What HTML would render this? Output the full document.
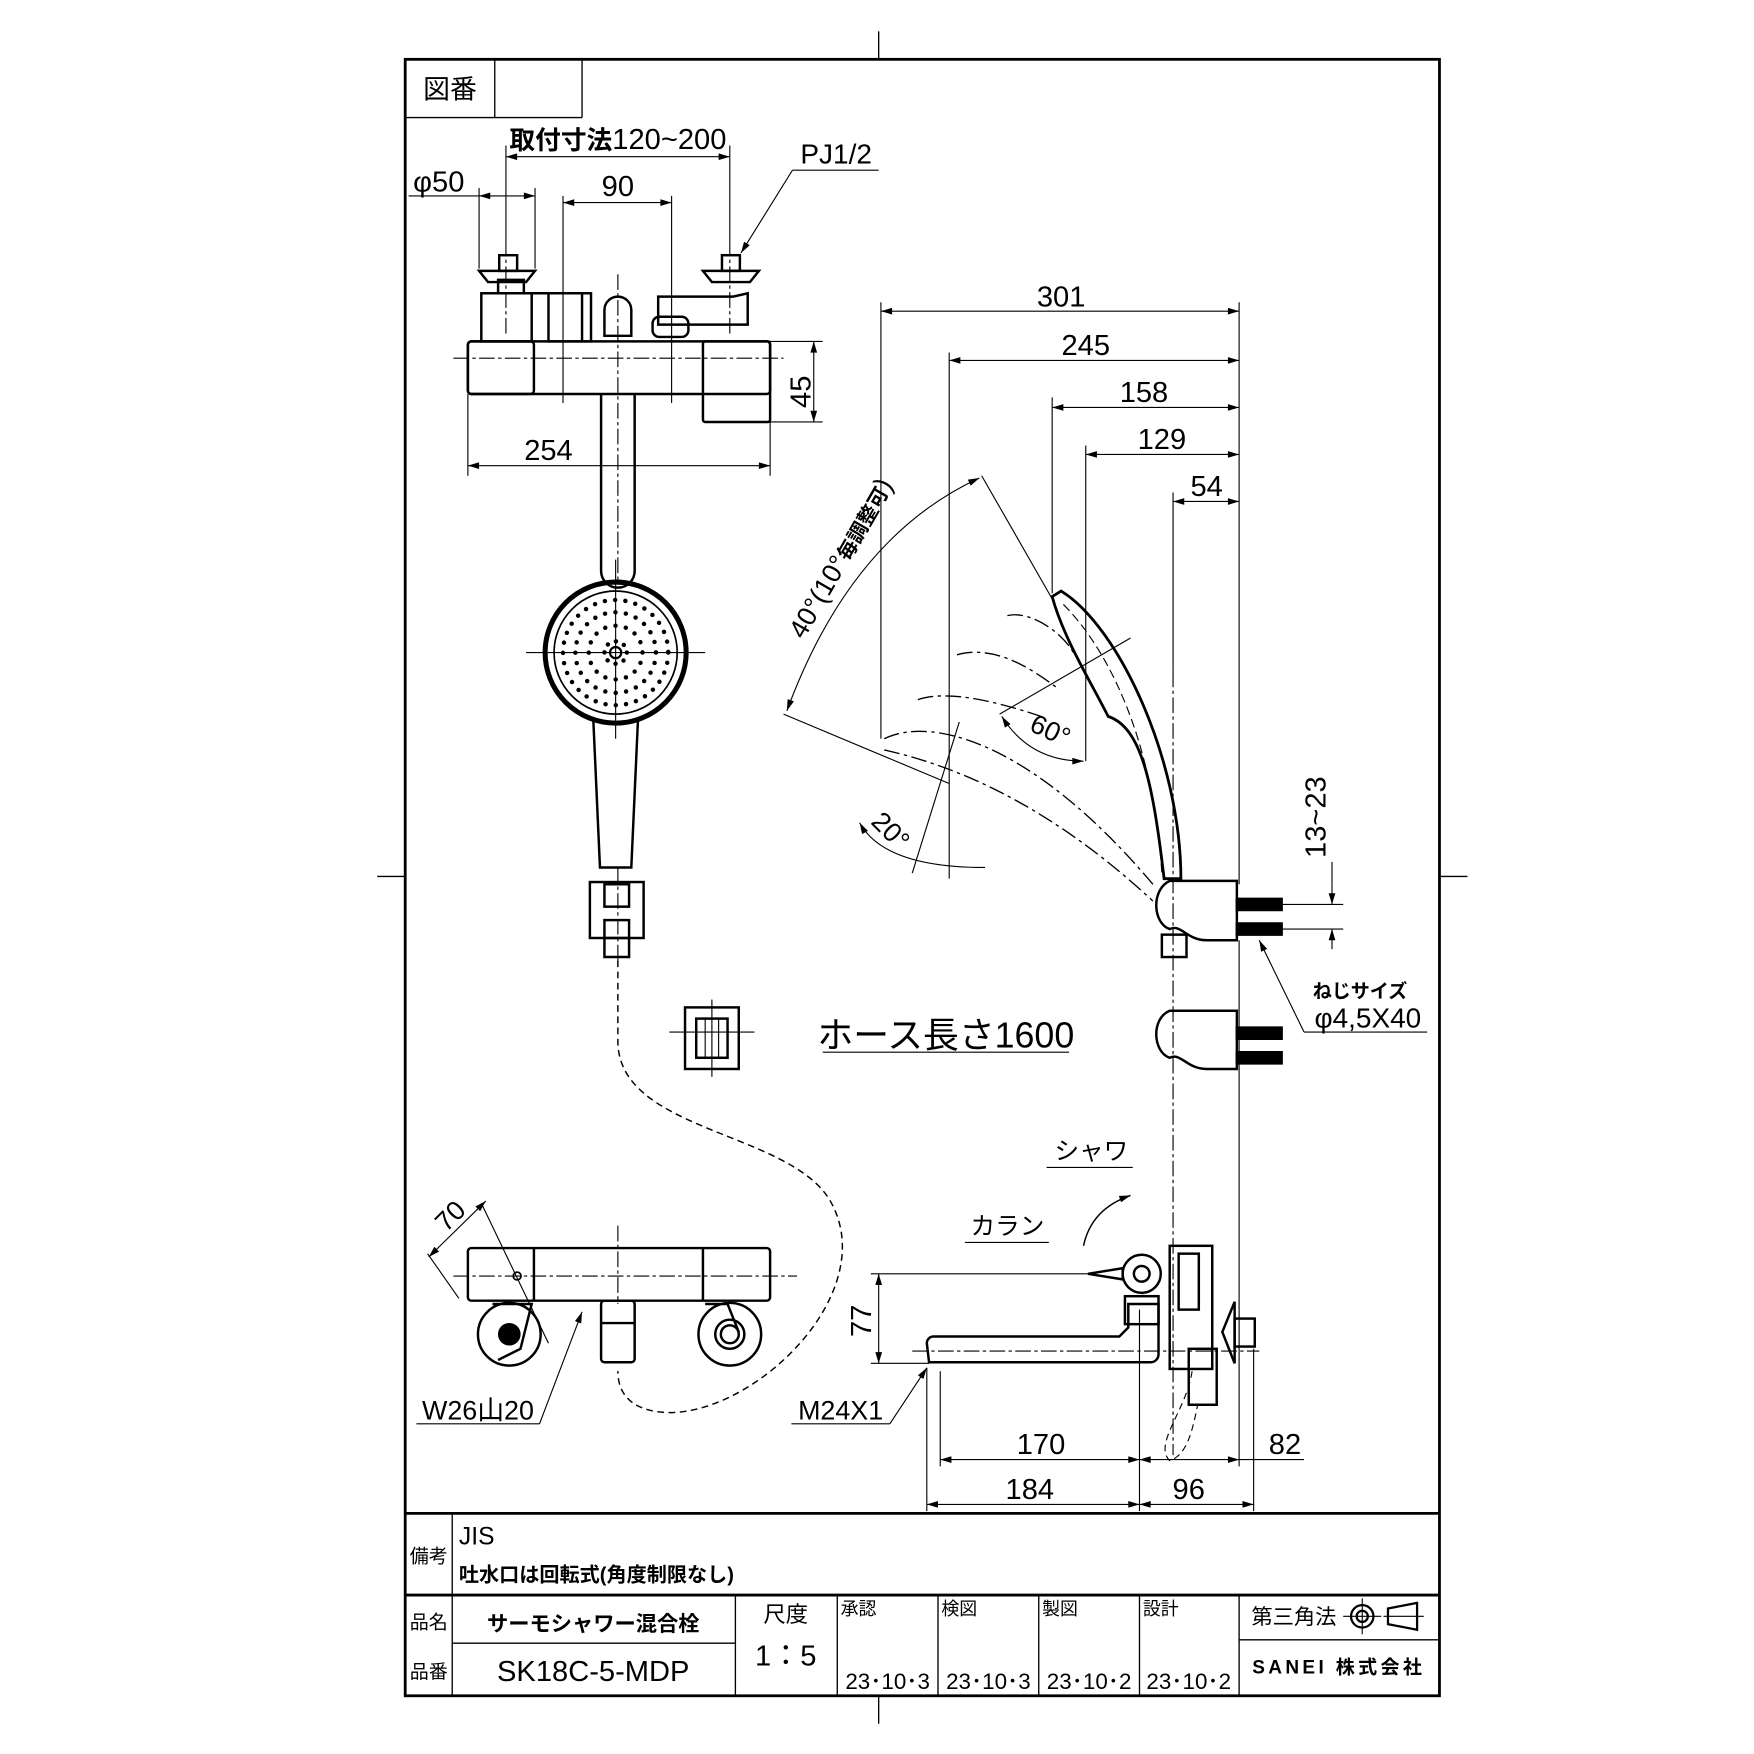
<!DOCTYPE html>
<html><head><meta charset="utf-8"><style>
html,body{margin:0;padding:0;background:#fff}
svg{display:block}
text{font-family:"Liberation Sans","Noto Sans CJK JP",sans-serif;fill:#000}
.b{font-weight:bold}
</style></head><body>
<svg width="1754" height="1754" viewBox="0 0 1567 1567" xmlns="http://www.w3.org/2000/svg">
<defs>
<marker id="a" viewBox="0 0 10 6" refX="10" refY="3" markerWidth="14" markerHeight="6" markerUnits="userSpaceOnUse" orient="auto-start-reverse"><path d="M0,0 L10,3 L0,6 Z" fill="#000"/></marker>
</defs>
<g fill="none" stroke="#000">
<rect x="362" y="53" width="924" height="1462" stroke-width="2.5"/>
<g stroke-width="1.2">
<line x1="785" y1="28" x2="785" y2="53"/><line x1="785" y1="1515" x2="785" y2="1540"/>
<line x1="337" y1="783" x2="362" y2="783"/><line x1="1286" y1="783" x2="1311" y2="783"/>
<line x1="362" y1="105" x2="520" y2="105"/><line x1="520" y1="53" x2="520" y2="105"/><line x1="442" y1="53" x2="442" y2="105"/>
</g>
<line x1="362" y1="1352" x2="1286" y2="1352" stroke-width="2.5"/>
<line x1="362" y1="1425" x2="1286" y2="1425" stroke-width="2.5"/>
<g stroke-width="1.2">
<line x1="404" y1="1352" x2="404" y2="1515"/>
<line x1="404" y1="1468" x2="657" y2="1468"/>
<line x1="657" y1="1425" x2="657" y2="1515"/>
<line x1="748" y1="1425" x2="748" y2="1515"/>
<line x1="838" y1="1425" x2="838" y2="1515"/>
<line x1="928" y1="1425" x2="928" y2="1515"/>
<line x1="1018" y1="1425" x2="1018" y2="1515"/>
<line x1="1107" y1="1425" x2="1107" y2="1515"/>
<line x1="1107" y1="1465" x2="1286" y2="1465"/>
</g>
<g stroke-width="2"><circle cx="1217" cy="1444" r="10"/><circle cx="1217" cy="1444" r="5"/><line x1="1200" y1="1444" x2="1234" y2="1444" stroke-width="1"/><line x1="1217" y1="1428" x2="1217" y2="1460" stroke-width="1"/>
<path d="M1240 1437 L1266 1432 L1266 1456 L1240 1451 Z"/><line x1="1236" y1="1444" x2="1272" y2="1444" stroke-width="1"/></g>

<g stroke-width="2.2">
<rect x="418" y="305" width="270" height="47" rx="3"/>
<rect x="418" y="305" width="59" height="47" rx="3"/>
<rect x="628" y="305" width="60" height="72" rx="2"/>
<path d="M537 352 L537 510 A15 15 0 0 0 567 510 L567 352"/>
<rect x="430" y="262" width="45" height="43"/>
<path d="M475 262 L520 262 L520 305"/><rect x="490" y="262" width="38" height="43"/>
<path d="M445 250 L468 250 L468 262 L445 262 Z"/>
<path d="M428 242 L478 242 L470 252 L436 252 Z"/>
<rect x="446" y="228" width="16" height="14"/>
<path d="M628 242 L678 242 L670 252 L636 252 Z"/>
<rect x="645" y="228" width="16" height="14"/>
<path d="M588 265 L655 265 L668 262 L668 290 L588 290 Z"/>
<rect x="583" y="283" width="32" height="18" rx="6"/>
<path d="M540 300 L540 277 A12 12 0 0 1 564 277 L564 300 Z"/>
</g>
<g stroke-width="1" stroke-dasharray="14 3 3 3">
<line x1="405" y1="320" x2="700" y2="320"/>
<line x1="552" y1="245" x2="552" y2="520"/>
<line x1="452" y1="215" x2="452" y2="300"/>
<line x1="652" y1="215" x2="652" y2="300"/>
</g>
<circle cx="550" cy="583" r="63" stroke-width="4.5"/>
<circle cx="550" cy="583" r="55" stroke-width="1.5"/>
<g stroke-width="4" stroke-linecap="round">
<circle cx="550" cy="583" r="10" stroke-dasharray="0 7.85"/>
<circle cx="550" cy="583" r="24" stroke-dasharray="0 9.4"/>
<circle cx="550" cy="583" r="36" stroke-dasharray="0 9.4"/>
<circle cx="550" cy="583" r="47" stroke-dasharray="0 9.2"/>
</g>
<circle cx="550" cy="583" r="5" stroke-width="2"/>
<g stroke-width="1"><line x1="470" y1="583" x2="630" y2="583"/><line x1="550" y1="500" x2="550" y2="660"/></g>
<path d="M530 642 L536 775 L564 775 L570 642" stroke-width="2.2"/>
<g stroke-width="2.2"><rect x="527" y="788" width="48" height="50"/><rect x="540" y="790" width="22" height="20"/><rect x="540" y="822" width="22" height="16"/><path d="M540 838 L540 855 L562 855 L562 838"/></g>
<line x1="552" y1="775" x2="552" y2="860" stroke-width="1" stroke-dasharray="14 3 3 3"/>
<path d="M552 858 L552 930 C552 1010 700 1010 740 1070 C790 1150 680 1260 600 1262 C570 1262 552 1250 552 1225" stroke-width="1.3" stroke-dasharray="6 4"/>
<g stroke-width="2.2"><rect x="612" y="900" width="48" height="55"/><rect x="622" y="910" width="28" height="35"/><line x1="630" y1="910" x2="630" y2="945" stroke-width="1"/><line x1="642" y1="910" x2="642" y2="945" stroke-width="1"/></g>
<g stroke-width="1"><line x1="598" y1="922" x2="674" y2="922"/><line x1="636" y1="893" x2="636" y2="962"/></g>

<g stroke-width="1">
<line x1="452" y1="130" x2="452" y2="215"/><line x1="652" y1="130" x2="652" y2="215"/>
<line x1="452" y1="140" x2="652" y2="140" marker-start="url(#a)" marker-end="url(#a)"/>
<line x1="428" y1="168" x2="428" y2="240"/><line x1="478" y1="168" x2="478" y2="240"/>
<line x1="365" y1="175" x2="428" y2="175"/><line x1="428" y1="175" x2="478" y2="175" marker-start="url(#a)" marker-end="url(#a)"/>
<line x1="503" y1="175" x2="503" y2="360"/><line x1="600" y1="175" x2="600" y2="360"/>
<line x1="503" y1="181" x2="600" y2="181" marker-start="url(#a)" marker-end="url(#a)"/>
<line x1="708" y1="152" x2="785" y2="152"/><line x1="708" y1="152" x2="662" y2="226" marker-end="url(#a)"/>
<line x1="688" y1="305" x2="735" y2="305"/><line x1="688" y1="377" x2="735" y2="377"/>
<line x1="727" y1="305" x2="727" y2="377" marker-start="url(#a)" marker-end="url(#a)"/>
<line x1="418" y1="352" x2="418" y2="425"/><line x1="688" y1="377" x2="688" y2="425"/>
<line x1="418" y1="416" x2="688" y2="416" marker-start="url(#a)" marker-end="url(#a)"/>
</g>

<g stroke-width="1">
<line x1="787" y1="270" x2="787" y2="660"/>
<line x1="848" y1="315" x2="848" y2="785"/>
<line x1="940" y1="355" x2="940" y2="530"/>
<line x1="970" y1="398" x2="970" y2="680"/>
<line x1="1107" y1="270" x2="1107" y2="790"/>
<line x1="787" y1="278" x2="1107" y2="278" marker-start="url(#a)" marker-end="url(#a)"/>
<line x1="848" y1="322" x2="1107" y2="322" marker-start="url(#a)" marker-end="url(#a)"/>
<line x1="940" y1="364" x2="1107" y2="364" marker-start="url(#a)" marker-end="url(#a)"/>
<line x1="970" y1="406" x2="1107" y2="406" marker-start="url(#a)" marker-end="url(#a)"/>
<line x1="1048" y1="448" x2="1107" y2="448" marker-start="url(#a)" marker-end="url(#a)"/>
<line x1="1048" y1="440" x2="1048" y2="600"/>
<line x1="877" y1="425" x2="940" y2="535"/>
<line x1="700" y1="638" x2="848" y2="700"/>
<path d="M703 635 Q760 480 875 427" marker-start="url(#a)" marker-end="url(#a)"/>
<line x1="893" y1="638" x2="1010" y2="570"/>
<path d="M895 640 Q920 680 968 680" marker-start="url(#a)" marker-end="url(#a)"/>
<line x1="815" y1="780" x2="857" y2="645"/>
<path d="M768 735 Q790 775 880 775" marker-start="url(#a)"/>
<line x1="1125" y1="840" x2="1165" y2="922" marker-start="url(#a)"/>
<line x1="1165" y1="922" x2="1275" y2="922"/>
<line x1="1145" y1="808" x2="1200" y2="808"/><line x1="1145" y1="830" x2="1200" y2="830"/>
<line x1="1190" y1="790" x2="1190" y2="808" marker-end="url(#a)"/>
<line x1="1190" y1="848" x2="1190" y2="830" marker-end="url(#a)"/>
<line x1="1190" y1="770" x2="1190" y2="790"/>
<line x1="735" y1="940" x2="955" y2="940"/>
</g>
<line x1="1048" y1="600" x2="1048" y2="1300" stroke-width="1" stroke-dasharray="14 3 3 3"/>
<g stroke-width="1.2" stroke-dasharray="14 4 3 4">
<path d="M790 660 C830 640 920 660 1030 790"/>
<path d="M790 670 C880 690 960 740 1030 805"/>
<path d="M820 625 C850 615 900 630 930 640"/>
<path d="M855 585 C890 575 925 600 945 615"/>
<path d="M900 550 C920 545 950 565 960 585"/>
</g>
<path d="M940 533 L948 528 C1000 560 1055 680 1055 785 L1040 785 C1030 700 1020 650 990 640 C975 610 950 570 940 533 Z" stroke-width="2.5"/>
<path d="M950 540 C990 580 1030 660 1038 780" stroke-width="1" stroke-dasharray="8 4"/>
<g stroke-width="2.2">
<path d="M1045 787 L1105 787 L1105 840 L1078 840 C1060 840 1055 825 1045 830 C1030 825 1028 795 1045 787 Z"/>
<rect x="1038" y="835" width="22" height="20"/>
<path d="M1105 803 L1145 803 L1145 813 L1105 813 Z" fill="#000"/>
<path d="M1105 825 L1145 825 L1145 835 L1105 835 Z" fill="#000"/>
<path d="M1045 903 L1105 903 L1105 955 L1078 955 C1060 955 1055 940 1045 945 C1030 940 1028 910 1045 903 Z"/>
<path d="M1105 918 L1145 918 L1145 928 L1105 928 Z" fill="#000"/>
<path d="M1105 940 L1145 940 L1145 950 L1105 950 Z" fill="#000"/>
</g>
<line x1="1107" y1="840" x2="1107" y2="1310" stroke-width="1"/>

<g stroke-width="2.2">
<rect x="418" y="1115" width="270" height="47" rx="3"/>
<line x1="477" y1="1115" x2="477" y2="1162"/><line x1="628" y1="1115" x2="628" y2="1162"/>
<circle cx="455" cy="1192" r="28"/><circle cx="652" cy="1192" r="28"/>
<circle cx="652" cy="1192" r="13"/><circle cx="652" cy="1192" r="8"/>
<circle cx="455" cy="1192" r="9" fill="#000"/>
<path d="M440 1165 L475 1165 L465 1205 L445 1215"/><path d="M630 1165 L650 1165 L660 1190"/>
<rect x="537" y="1162" width="30" height="55" rx="3"/>
<line x1="537" y1="1182" x2="567" y2="1182"/>
</g>
<circle cx="462" cy="1140" r="3.5" stroke-width="1.5"/>
<g stroke-width="1">
<line x1="405" y1="1140" x2="712" y2="1140" stroke-dasharray="14 3 3 3"/>
<line x1="552" y1="1095" x2="552" y2="1165" stroke-dasharray="14 3 3 3"/>
<line x1="430" y1="1075" x2="490" y2="1200"/>
<line x1="382" y1="1120" x2="410" y2="1160"/>
<line x1="383" y1="1123" x2="434" y2="1073" marker-start="url(#a)" marker-end="url(#a)"/>
<line x1="372" y1="1272" x2="482" y2="1272"/>
<line x1="482" y1="1272" x2="520" y2="1172" marker-end="url(#a)"/>
</g>

<g stroke-width="2.2">
<path d="M830 1217 L828 1200 A6 6 0 0 1 834 1194 L1000 1194 L1008 1186 L1008 1165 L1035 1165 L1035 1210 A7 7 0 0 1 1028 1217 Z"/>
<circle cx="1020" cy="1138" r="17"/><circle cx="1020" cy="1138" r="7"/>
<path d="M972 1138 L1003 1133 L1003 1143 Z"/>
<rect x="1045" y="1113" width="38" height="110"/>
<rect x="1053" y="1120" width="18" height="50"/>
<rect x="1005" y="1158" width="30" height="25"/>
<path d="M1103 1163 L1092 1190 L1103 1218 Z"/>
<rect x="1103" y="1178" width="18" height="25"/>
<rect x="1062" y="1205" width="25" height="50"/>
</g>
<g stroke-width="1">
<line x1="778" y1="1138" x2="975" y2="1138"/>
<line x1="778" y1="1218" x2="830" y2="1218"/>
<line x1="785" y1="1138" x2="785" y2="1218" marker-start="url(#a)" marker-end="url(#a)"/>
<line x1="815" y1="1207" x2="1125" y2="1207" stroke-dasharray="14 3 3 3"/>
<line x1="707" y1="1272" x2="795" y2="1272"/>
<line x1="795" y1="1272" x2="828" y2="1222" marker-end="url(#a)"/>
<line x1="828" y1="1222" x2="828" y2="1350"/><line x1="840" y1="1225" x2="840" y2="1310"/>
<line x1="1018" y1="1170" x2="1018" y2="1350"/><line x1="1120" y1="1205" x2="1120" y2="1350"/>
<line x1="840" y1="1304" x2="1018" y2="1304" marker-start="url(#a)" marker-end="url(#a)"/>
<line x1="1018" y1="1304" x2="1107" y2="1304" marker-start="url(#a)" marker-end="url(#a)"/>
<line x1="1107" y1="1304" x2="1165" y2="1304"/>
<line x1="828" y1="1344" x2="1018" y2="1344" marker-start="url(#a)" marker-end="url(#a)"/>
<line x1="1018" y1="1344" x2="1120" y2="1344" marker-start="url(#a)" marker-end="url(#a)"/>
<line x1="935" y1="1043" x2="1012" y2="1043"/><line x1="862" y1="1110" x2="937" y2="1110"/>
<path d="M968 1113 Q975 1080 1010 1068" marker-end="url(#a)" stroke-width="1.3"/>
</g>
<path d="M1065 1225 C1060 1260 1030 1290 1045 1305 C1060 1300 1065 1280 1070 1255" stroke-width="1" stroke-dasharray="6 4"/>
</g>

<text x="402" y="88" font-size="24" text-anchor="middle">図番</text>
<text x="552" y="133" font-size="23" class="b" text-anchor="middle">取付寸法<tspan font-weight="normal" font-size="26">120~200</tspan></text>
<text x="392" y="171" font-size="26" text-anchor="middle">φ50</text>
<text x="552" y="175" font-size="26" text-anchor="middle">90</text>
<text x="747" y="146" font-size="25" text-anchor="middle">PJ1/2</text>
<text x="0" y="0" font-size="26" text-anchor="middle" transform="translate(724,350) rotate(-90)">45</text>
<text x="490" y="411" font-size="26" text-anchor="middle">254</text>
<text x="948" y="274" font-size="26" text-anchor="middle">301</text>
<text x="970" y="317" font-size="26" text-anchor="middle">245</text>
<text x="1022" y="359" font-size="26" text-anchor="middle">158</text>
<text x="1038" y="401" font-size="26" text-anchor="middle">129</text>
<text x="1078" y="443" font-size="26" text-anchor="middle">54</text>
<text x="0" y="0" font-size="24" transform="translate(718,572) rotate(-60)">40°(10°<tspan class="b" font-size="18">毎調整可</tspan>)</text>
<text x="0" y="0" font-size="24" text-anchor="middle" transform="translate(935,660) rotate(25)">60°</text>
<text x="0" y="0" font-size="24" text-anchor="middle" transform="translate(790,748) rotate(45)">20°</text>
<text x="0" y="0" font-size="26" text-anchor="middle" transform="translate(1184,730) rotate(-90)">13~23</text>
<text x="1215" y="891" font-size="17" class="b" text-anchor="middle">ねじサイズ</text>
<text x="1222" y="918" font-size="25" text-anchor="middle">φ4,5X40</text>
<text x="845" y="936" font-size="32" text-anchor="middle">ホース長さ1600</text>
<text x="975" y="1036" font-size="22" text-anchor="middle">シャワ</text>
<text x="900" y="1103" font-size="22" text-anchor="middle">カラン</text>
<text x="0" y="0" font-size="24" text-anchor="middle" transform="translate(408,1092) rotate(-45)">70</text>
<text x="427" y="1268" font-size="24" text-anchor="middle">W26山20</text>
<text x="0" y="0" font-size="26" text-anchor="middle" transform="translate(778,1180) rotate(-90)">77</text>
<text x="751" y="1268" font-size="24" text-anchor="middle">M24X1</text>
<text x="930" y="1299" font-size="26" text-anchor="middle">170</text>
<text x="1148" y="1299" font-size="26" text-anchor="middle">82</text>
<text x="920" y="1339" font-size="26" text-anchor="middle">184</text>
<text x="1062" y="1339" font-size="26" text-anchor="middle">96</text>
<text x="383" y="1396" font-size="17" text-anchor="middle">備考</text>
<text x="410" y="1380" font-size="22">JIS</text>
<text x="410" y="1413" font-size="18" class="b">吐水口は回転式(角度制限なし)</text>
<text x="383" y="1455" font-size="17" text-anchor="middle">品名</text>
<text x="530" y="1457" font-size="19" class="b" text-anchor="middle">サーモシャワー混合栓</text>
<text x="383" y="1499" font-size="17" text-anchor="middle">品番</text>
<text x="530" y="1502" font-size="26" text-anchor="middle">SK18C-5-MDP</text>
<text x="702" y="1449" font-size="20" text-anchor="middle">尺度</text>
<text x="702" y="1488" font-size="26" text-anchor="middle">1：5</text>
<text x="751" y="1443" font-size="16">承認</text>
<text x="841" y="1443" font-size="16">検図</text>
<text x="931" y="1443" font-size="16">製図</text>
<text x="1021" y="1443" font-size="16">設計</text>
<text x="793" y="1509" font-size="20" text-anchor="middle">23･10･3</text>
<text x="883" y="1509" font-size="20" text-anchor="middle">23･10･3</text>
<text x="973" y="1509" font-size="20" text-anchor="middle">23･10･2</text>
<text x="1062" y="1509" font-size="20" text-anchor="middle">23･10･2</text>
<text x="1118" y="1451" font-size="19">第三角法</text>
<text x="1196" y="1495" font-size="17" class="b" text-anchor="middle" letter-spacing="3">SANEI 株式会社</text>
</svg>
</body></html>
